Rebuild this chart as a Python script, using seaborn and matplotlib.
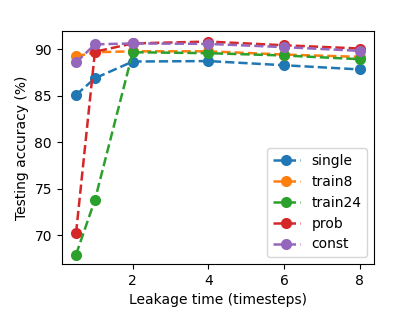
import matplotlib
matplotlib.use("Agg")
import matplotlib.pyplot as plt
import seaborn as sns
import pandas as pd

# tempos de vazamento e acurácias
leakage = [0.5, 1, 2, 4, 6, 8]
single = [85.1, 86.9, 88.7, 88.75, 88.3, 87.85]
train8 = [89.25, 89.7, 89.8, 89.8, 89.45, 89.2]
train24 = [67.9, 73.8, 89.7, 89.6, 89.35, 88.95]
prob = [70.2, 89.75, 90.65, 90.85, 90.45, 90.1]
const = [88.6, 90.55, 90.65, 90.6, 90.25, 89.85]

series = {"single": single, "train8": train8, "train24": train24,
          "prob": prob, "const": const}
colors = ["#1f77b4", "#ff7f0e", "#2ca02c", "#d62728", "#9467bd"]

fig = plt.figure(figsize=(4.15, 3.12), dpi=100)
ax = fig.add_axes([0.149, 0.154, 0.752, 0.747])

for (nome, vals), cor in zip(series.items(), colors):
    df = pd.DataFrame({"x": leakage, "y": vals})
    sns.lineplot(data=df, x="x", y="y", ax=ax, color=cor, linestyle="--",
                 marker="o", markersize=8, markeredgewidth=0, label=nome,
                 linewidth=1.8)

ax.set_xticks([2, 4, 6, 8])
ax.set_yticks([70, 75, 80, 85, 90])
ax.set_ylim(66.9, 92.0)
ax.set_xlabel("Leakage time (timesteps)")
ax.set_ylabel("Testing accuracy (%)")
ax.legend(loc="lower right")

fig.savefig("out.png", dpi=100)
